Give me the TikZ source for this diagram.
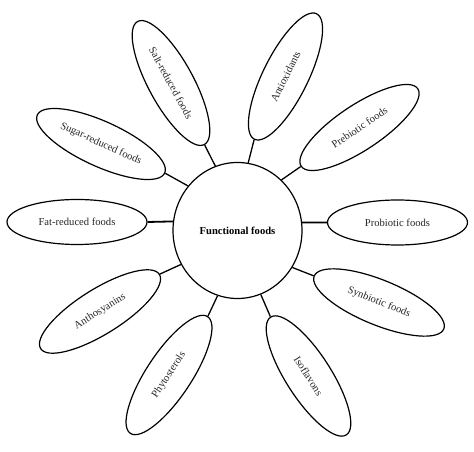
\documentclass[tikz,border=0pt]{standalone}
\usepackage{fontspec}
\setmainfont{Liberation Serif}
\usetikzlibrary{shapes.geometric}
\begin{document}
\begin{tikzpicture}[x=1pt,y=1pt,
  leaf/.style={ellipse,draw,line width=1.2pt,minimum width=140pt,minimum height=45pt,inner sep=0pt,
    font=\fontsize{10.6}{12}\selectfont,text=black!85},
  hub/.style={ellipse,draw,line width=1.2pt,minimum width=129pt,minimum height=136pt,inner sep=0pt,
    font=\fontsize{10.6}{12}\selectfont\bfseries},
  link/.style={line width=1.3pt},
  thick link/.style={line width=1.8pt}]
\useasboundingbox (0,0) rectangle (474,452);
\node[hub] (c) at (237.5,221.5) {Functional foods};
\node[leaf] (fat) at (77,230) {Fat-reduced foods};
\node[leaf,rotate=-24.5] (sugar) at (101,308) {Sugar-reduced foods};
\node[leaf,rotate=-61.5] (salt) at (171,369) {Salt-reduced foods};
\node[leaf,rotate=63.6] (anti) at (285.5,375.5) {Antioxidants};
\node[leaf,rotate=33.6] (pre) at (359.5,324.5) {Prebiotic foods};
\node[leaf] (pro) at (397.5,229.5) {Probiotic foods};
\node[leaf,rotate=-22.2] (syn) at (379,149.5) {Synbiotic foods};
\node[leaf,rotate=-57.3] (iso) at (308.5,76) {Isoflavons};
\node[leaf,rotate=56.5] (phy) at (169,77) {Phytosterols};
\node[leaf,rotate=32] (ant) at (100,140.5) {Anthosyanins};
\draw[thick link] (fat.east) -- (c.172.5);
\draw[link] (sugar.east) -- (c.138);
\draw[link] (salt.east) -- (c.109.4);
\draw[link] (anti.west) -- (c.81);
\draw[link] (pre.west) -- (c.49.7);
\draw[thick link] (pro.west) -- (c.7.5);
\draw[link] (syn.west) -- (c.-34.5);
\draw[link] (iso.west) -- (c.-70.2);
\draw[link] (phy.east) -- (c.-107.9);
\draw[link] (ant.east) -- (c.-149.6);
\end{tikzpicture}
\end{document}
